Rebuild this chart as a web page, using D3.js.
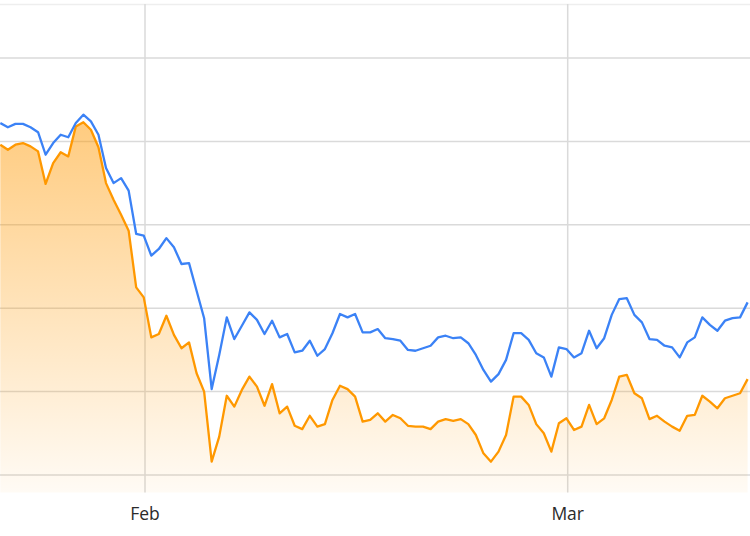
<!DOCTYPE html>
<html>
<head>
<meta charset="utf-8">
<script src="https://cdn.jsdelivr.net/npm/d3@7"></script>
<style>
  html, body { margin: 0; padding: 0; background: #ffffff; }
  svg { display: block; }
</style>
</head>
<body>
<svg id="chart" width="750" height="536"></svg>
<script>
// ---- data (12-hour samples, first sample 2021-01-22 10:00) ----
const startTime = new Date(2021, 0, 22, 10, 0);
const stepHours = 12;

const seriesBlue = [
  42.2, 41.7, 42.1, 42.1, 41.7, 41.1, 38.4, 39.8, 40.8, 40.5,
  42.2, 43.2, 42.4, 40.8, 36.8, 35.0, 35.6, 34.1, 28.9, 28.7,
  26.3, 27.1, 28.4, 27.3, 25.3, 25.4, 22.1, 18.8, 10.3, 14.4,
  18.9, 16.3, 17.9, 19.5, 18.6, 16.9, 18.5, 16.5, 16.9, 14.7,
  14.9, 16.1, 14.3, 15.1, 17.0, 19.3, 18.9, 19.3, 17.1, 17.1,
  17.5, 16.4, 16.3, 16.1, 15.0, 14.9, 15.2, 15.5, 16.5, 16.7,
  16.4, 16.5, 15.8, 14.4, 12.6, 11.2, 12.1, 13.8, 17.0, 17.0,
  16.2, 14.6, 14.1, 11.8, 15.3, 15.1, 14.1, 14.6, 17.3, 15.2,
  16.4, 19.2, 21.1, 21.2, 19.2, 18.3, 16.3, 16.2, 15.5, 15.3,
  14.1, 15.9, 16.5, 18.9, 18.0, 17.3, 18.5, 18.8, 18.9, 20.7
];

const seriesOrange = [
  39.6, 39.0, 39.6, 39.8, 39.4, 38.8, 34.9, 37.4, 38.7, 38.2,
  41.8, 42.3, 41.4, 39.3, 35.0, 33.0, 31.2, 29.3, 22.5, 21.3,
  16.5, 16.9, 19.1, 16.8, 15.2, 15.9, 12.2, 10.0, 1.6, 4.6,
  9.5, 8.2, 10.2, 11.8, 10.6, 8.3, 10.9, 7.4, 8.2, 5.9,
  5.5, 7.1, 5.8, 6.1, 9.0, 10.7, 10.3, 9.4, 6.4, 6.6,
  7.4, 6.4, 7.2, 6.8, 5.9, 5.8, 5.8, 5.5, 6.4, 6.7,
  6.5, 6.7, 6.1, 4.8, 2.6, 1.6, 2.8, 4.8, 9.4, 9.4,
  8.4, 6.1, 5.0, 2.8, 6.2, 6.8, 5.4, 5.8, 8.4, 6.1,
  6.8, 9.0, 11.8, 12.0, 9.8, 9.2, 6.7, 7.1, 6.4, 5.8,
  5.3, 7.1, 7.2, 9.5, 8.8, 8.0, 9.2, 9.5, 9.8, 11.5
];

const xTickDates = [new Date(2021, 1, 1), new Date(2021, 2, 1)];
const xTickLabels = ["Feb", "Mar"];
const yGridValues = [0, 10, 20, 30, 40, 50];

// ---- layout ----
const W = 750, H = 536;
const plotTop = 4, plotBottom = 492.5;

const svg = d3.select("#chart");

const x = d3.scaleTime()
  .domain(xTickDates)
  .range([145, 567.7]);

const y = d3.scaleLinear()
  .domain([0, 50])
  .range([475, 58]);

const timeAt = i => d3.timeHour.offset(startTime, i * stepHours);
const blue = seriesBlue.map((v, i) => ({ t: timeAt(i), v }));
const orange = seriesOrange.map((v, i) => ({ t: timeAt(i), v }));

// gradient
const defs = svg.append("defs");
const grad = defs.append("linearGradient")
  .attr("id", "orangeFill")
  .attr("gradientUnits", "userSpaceOnUse")
  .attr("x1", 0).attr("x2", 0)
  .attr("y1", y(d3.max(seriesOrange))).attr("y2", plotBottom);
grad.append("stop").attr("offset", "0%").attr("stop-color", "#ff9800").attr("stop-opacity", 0.5);
grad.append("stop").attr("offset", "100%").attr("stop-color", "#ff9800").attr("stop-opacity", 0.04);

// top border line
svg.append("line")
  .attr("x1", 0).attr("x2", W)
  .attr("y1", plotTop + 0.5).attr("y2", plotTop + 0.5)
  .attr("stroke", "#eeeeee").attr("stroke-width", 1.5);

// horizontal grid
svg.append("g")
  .selectAll("line")
  .data(yGridValues)
  .join("line")
  .attr("x1", 0).attr("x2", W)
  .attr("y1", d => y(d)).attr("y2", d => y(d))
  .attr("stroke", "#dadada").attr("stroke-width", 1.5);

// vertical grid
svg.append("g")
  .selectAll("line")
  .data(xTickDates)
  .join("line")
  .attr("x1", d => x(d)).attr("x2", d => x(d))
  .attr("y1", plotTop).attr("y2", plotBottom)
  .attr("stroke", "#dadada").attr("stroke-width", 1.5);

// area
const area = d3.area()
  .x(d => x(d.t))
  .y0(plotBottom)
  .y1(d => y(d.v));

svg.append("path")
  .datum(orange)
  .attr("d", area)
  .attr("fill", "url(#orangeFill)");

const line = d3.line()
  .x(d => x(d.t))
  .y(d => y(d.v));

svg.append("path")
  .datum(orange)
  .attr("d", line)
  .attr("fill", "none")
  .attr("stroke", "#ff9800")
  .attr("stroke-width", 2.3)
  .attr("stroke-linejoin", "round");

svg.append("path")
  .datum(blue)
  .attr("d", line)
  .attr("fill", "none")
  .attr("stroke", "#3b82f6")
  .attr("stroke-width", 2.3)
  .attr("stroke-linejoin", "round");

// x labels
svg.append("g")
  .selectAll("text")
  .data(xTickDates)
  .join("text")
  .attr("x", d => x(d))
  .attr("y", 520)
  .attr("text-anchor", "middle")
  .attr("font-family", "'Open Sans', 'Noto Sans', sans-serif")
  .attr("font-size", 17.5)
  .attr("fill", "#2b2b2b")
  .text((d, i) => xTickLabels[i]);
</script>
</body>
</html>
